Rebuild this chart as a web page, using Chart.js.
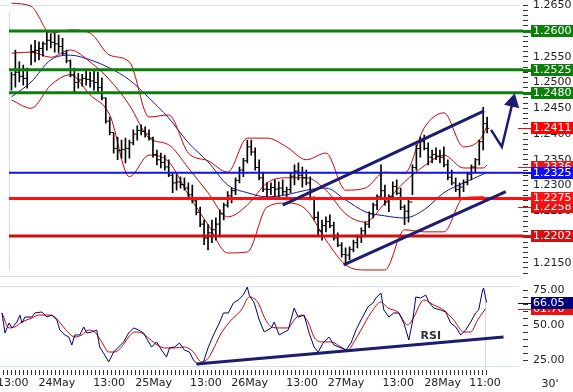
<!DOCTYPE html>
<html>
<head>
<meta charset="utf-8">
<script src="https://cdn.jsdelivr.net/npm/chart.js@4.4.1/dist/chart.umd.min.js"></script>
<style>
html, body { margin:0; padding:0; background:#fff; }
#wrap { position:relative; width:573px; height:392px; overflow:hidden; }
canvas { position:absolute; left:0; }
#priceChart { top:0; }
#rsiChart { top:282px; }
</style>
</head>
<body>
<div id="wrap">
  <canvas id="priceChart" width="573" height="282"></canvas>
  <canvas id="rsiChart" width="573" height="110"></canvas>
</div>
<script>
// hourly bars, index 0..121
const barHigh = [1.2520,1.2563,1.2540,1.2534,1.2528,1.2573,1.2582,1.2579,1.2579,1.2598,
  1.2594,1.2596,1.2592,1.2586,1.2563,1.2544,1.2528,1.2518,1.2516,1.2524,
  1.2520,1.2524,1.2520,1.2509,1.2470,1.2433,1.2402,1.2394,1.2388,1.2392,
  1.2388,1.2408,1.2416,1.2418,1.2414,1.2408,1.2394,1.2369,1.2363,1.2359,
  1.2350,1.2324,1.2321,1.2317,1.2315,1.2305,1.2301,1.2272,1.2258,1.2233,
  1.2224,1.2233,1.2237,1.2253,1.2266,1.2288,1.2295,1.2315,1.2336,1.2353,
  1.2388,1.2388,1.2373,1.2350,1.2326,1.2305,1.2305,1.2311,1.2307,1.2311,
  1.2297,1.2324,1.2340,1.2344,1.2336,1.2330,1.2317,1.2278,1.2249,1.2233,
  1.2239,1.2243,1.2229,1.2208,1.2189,1.2179,1.2181,1.2194,1.2204,1.2218,
  1.2229,1.2249,1.2266,1.2282,1.2340,1.2301,1.2282,1.2307,1.2311,1.2295,
  1.2262,1.2272,1.2340,1.2379,1.2394,1.2398,1.2383,1.2369,1.2373,1.2369,
  1.2375,1.2350,1.2330,1.2315,1.2305,1.2311,1.2326,1.2340,1.2353,1.2388,
  1.2452,1.2433];
const barLow = [1.2485,1.2491,1.2501,1.2495,1.2489,1.2534,1.2540,1.2544,1.2551,1.2563,
  1.2567,1.2559,1.2557,1.2553,1.2538,1.2511,1.2482,1.2489,1.2493,1.2495,
  1.2491,1.2485,1.2482,1.2466,1.2421,1.2398,1.2363,1.2350,1.2353,1.2344,
  1.2353,1.2379,1.2388,1.2398,1.2394,1.2388,1.2355,1.2340,1.2334,1.2330,
  1.2317,1.2286,1.2291,1.2295,1.2291,1.2272,1.2266,1.2243,1.2220,1.2185,
  1.2175,1.2189,1.2194,1.2200,1.2233,1.2258,1.2266,1.2282,1.2305,1.2317,
  1.2344,1.2359,1.2330,1.2311,1.2288,1.2278,1.2282,1.2280,1.2278,1.2282,
  1.2272,1.2286,1.2301,1.2311,1.2297,1.2301,1.2272,1.2233,1.2204,1.2194,
  1.2210,1.2218,1.2194,1.2181,1.2161,1.2150,1.2156,1.2171,1.2179,1.2189,
  1.2200,1.2218,1.2237,1.2253,1.2276,1.2262,1.2249,1.2272,1.2282,1.2253,
  1.2224,1.2229,1.2282,1.2330,1.2355,1.2369,1.2340,1.2344,1.2350,1.2344,
  1.2336,1.2311,1.2301,1.2288,1.2278,1.2288,1.2301,1.2311,1.2326,1.2340,
  1.2369,1.2402];
const barClose = [1.2515,1.2520,1.2512,1.2508,1.2525,1.2560,1.2562,1.2566,1.2575,1.2582,
  1.2578,1.2575,1.2570,1.2556,1.2542,1.2515,1.2500,1.2505,1.2508,1.2506,
  1.2503,1.2500,1.2490,1.2470,1.2425,1.2403,1.2372,1.2368,1.2370,1.2372,
  1.2383,1.2400,1.2407,1.2405,1.2400,1.2392,1.2360,1.2350,1.2345,1.2336,
  1.2320,1.2305,1.2307,1.2302,1.2295,1.2282,1.2270,1.2248,1.2225,1.2198,
  1.2208,1.2214,1.2225,1.2245,1.2262,1.2280,1.2290,1.2310,1.2330,1.2348,
  1.2375,1.2365,1.2335,1.2315,1.2293,1.2292,1.2296,1.2293,1.2295,1.2288,
  1.2292,1.2318,1.2328,1.2320,1.2315,1.2305,1.2277,1.2238,1.2212,1.2222,
  1.2230,1.2222,1.2198,1.2184,1.2166,1.2165,1.2176,1.2189,1.2200,1.2212,
  1.2225,1.2245,1.2262,1.2278,1.2290,1.2268,1.2278,1.2298,1.2285,1.2258,
  1.2250,1.2268,1.2335,1.2372,1.2385,1.2372,1.2355,1.2360,1.2357,1.2355,
  1.2340,1.2316,1.2305,1.2292,1.2297,1.2306,1.2322,1.2336,1.2350,1.2385,
  1.2420,1.2411];

// indicators, read every 5 bars
const bandBars = [0,5,10,15,20,25,30,35,40,45,50,55,60,65,70,75,80,85,90,95,100,105,110,115,120,121];
const bbUpper = [1.2654,1.2648,1.2596,1.2602,1.2596,1.2553,1.2540,1.2433,1.2437,1.2363,1.2348,1.2326,1.2392,
  1.2392,1.2375,1.2350,1.2363,1.2291,1.2295,1.2326,1.2324,1.2412,1.2441,1.2375,1.2398,1.2418];
const bbMid = [1.2557,1.2559,1.2549,1.2563,1.2540,1.2505,1.2456,1.2392,1.2379,1.2334,1.2286,1.2239,1.2262,
  1.2305,1.2315,1.2315,1.2291,1.2245,1.2229,1.2266,1.2307,1.2338,1.2359,1.2334,1.2334,1.2340];
const bbLower = [1.2466,1.2450,1.2495,1.2515,1.2476,1.2437,1.2317,1.2359,1.2346,1.2282,1.2224,1.2169,1.2171,
  1.2258,1.2266,1.2253,1.2194,1.2146,1.2136,1.2136,1.2214,1.2210,1.2210,1.2276,1.2278,1.2272];
const maBlue = [1.2472,1.2501,1.2544,1.2553,1.2544,1.2528,1.2505,1.2470,1.2431,1.2383,1.2346,1.2301,1.2286,
  1.2278,1.2282,1.2291,1.2295,1.2272,1.2249,1.2241,1.2237,1.2253,1.2286,1.2305,1.2322,1.2326];

// levels and drawn lines
const levelGreen = [1.2600, 1.2525, 1.2480];
const levelBlue = [1.2325];
const levelRed = [1.2275, 1.2202];
const chanUpBars = [69, 120.25], chanUpVals = [1.2262, 1.2445];
const chanLoBars = [84.5, 125.75], chanLoVals = [1.2146, 1.2288];
const arrowBars = [122, 124.75, 127.5], arrowVals = [1.2408, 1.2375, 1.2462];

// price tags on the right axis (drawn in this order)
const tagVals = [1.2600, 1.2525, 1.2480, 1.2411, 1.2336, 1.2325, 1.2258, 1.2275, 1.2202];
const tagColors = ['#0a7f0a','#0a7f0a','#0a7f0a','#ff0000','#ee1111','#1010ee','#e81010','#ff1010','#d01010'];
const tagStub = [false,false,false,true,true,false,true,false,false];
const tagWidth = [3,3,3,1,1,2,1,3,3];

// RSI
const rsiBars = [-0.5,0.25,1.25,2,3.25,4,4.5,5.25,7,7.75,9.5,10.75,12,13.25,14,15.25,16.25,17,17.75,19,
  20,20.75,22,23.25,24,25.25,26.25,27.5,28.75,30,31.25,32.5,33.75,35,36.25,37,38.25,39.5,40.75,41.5,
  42.75,44,45.25,46.5,47.5,48.75,50,51.25,52.75,54,55,56.25,57.5,58.75,60,61,61.5,62.75,64,65.25,
  67,67.75,69,71.25,72.75,73.75,75.25,76.5,77.75,78.75,80,81.5,82.75,84.5,85.75,87,88.25,89.5,91.25,92.5,
  93.25,94.5,95.25,96.5,97.75,99,100.25,101.5,102.5,103.25,104.5,105.75,106.5,107.75,109.5,110.75,112,113.25,
  114.5,115.75,117,118.25,119,120,120.25,121];
const rsiVals = [58.6,44.3,51.4,47.9,52.1,57.1,51.4,55.7,55.7,58.6,59.3,55.7,57.1,53.6,46.4,42.9,41.4,35.7,42.9,42.9,
  48.6,44.3,45.0,46.4,34.3,28.6,23.6,30.7,34.3,37.9,44.3,47.9,46.4,44.3,37.9,34.3,37.9,32.1,27.1,33.6,
  34.3,37.1,32.1,30.7,25.0,21.4,23.6,34.3,44.3,51.4,58.6,58.6,65.7,67.9,71.4,77.1,71.4,65.7,53.6,45.0,
  47.9,52.1,42.9,46.4,62.1,55.7,57.1,44.3,34.3,30.7,37.1,41.4,35.7,33.6,32.1,37.1,46.4,53.6,62.9,65.7,
  69.3,72.9,60.7,55.7,58.6,58.6,51.4,39.3,53.6,70.0,69.3,71.4,66.4,62.1,60.7,59.3,51.4,48.6,
  42.9,46.4,52.1,58.6,60.7,75.0,76.4,66.05];
const rsiMaBars = [-0.5,1.25,2.75,4.5,7,8.75,11.25,12.75,14.5,16.25,17.75,19.5,21.25,22.75,24.5,26.25,27.75,29.5,31.25,32.75,
  34.5,36.25,37.75,40.25,42.75,45.25,47.5,49.5,51.25,52.75,54.5,57,59.5,61.5,63.75,65.25,67,69,71.25,72.75,
  74.5,76.25,77.75,79.5,82,84.5,86.25,87.75,89.5,92,94.5,96.25,98.75,101.25,102.75,105.25,107.75,110.25,112.75,115.25,
  117,118.75,120.75];
const rsiMaVals = [58.6,47.9,48.6,52.1,55.0,57.1,57.1,55.7,50.0,44.3,41.4,42.9,46.4,45.0,37.9,30.7,30.7,34.3,41.4,45.0,
  44.3,40.7,37.1,33.6,33.6,34.3,30.7,23.6,26.4,34.3,44.3,53.6,60.7,70.0,65.7,55.7,48.6,47.9,47.9,53.6,
  57.1,52.1,41.4,37.9,37.9,34.3,32.1,37.9,46.4,58.6,66.4,62.1,59.3,50.0,55.7,67.9,64.3,60.7,53.6,45.0,
  45.0,53.6,61.7];
const rsiTrendBars = [48.25, 125.25], rsiTrendVals = [22.1, 41.4];
const rsiTagVals = [61.70, 66.05];
const rsiTagColors = ['#ee1111', '#000080'];

// time axis
const xTickPos = [2.2, 13.25, 26.35, 37.5, 50.6, 61.6, 74.75, 85.75, 98.85, 110, 120.6];
const xTickLabels = ['13:00','24May','13:00','25May','13:00','26May','13:00','27May','13:00','28May','11:00'];

// plot area is 523px wide, 4px per bar
const X_MIN = -0.625, X_MAX = X_MIN + 523 / 4;
const FONT = "'DejaVu Sans', Verdana, sans-serif";
Chart.defaults.font.family = FONT;
Chart.defaults.font.size = 11;
Chart.defaults.color = '#222';

function pts(xs, ys) {
    return xs.map(function (x, k) { return {x: x, y: ys[k]}; });
}

function curve(xs, ys, color, width, order) {
    return {type:'line', data: pts(xs, ys), borderColor: color, borderWidth: width, clip: false,
        pointRadius: 0, cubicInterpolationMode: 'monotone', order: order};
}

function level(v, color, width) {
    return {type:'line', data: [{x: X_MIN, y: v}, {x: X_MAX, y: v}], borderColor: color,
        borderWidth: width, pointRadius: 0, order: 30};
}

function drawTag(ctx, y, text, color, stub, width, areaRight) {
    const off = width % 2 ? 0.5 : 0;
    ctx.strokeStyle = color;
    ctx.lineWidth = width;
    ctx.beginPath();
    ctx.moveTo(stub ? 518 : areaRight, y + off);
    ctx.lineTo(531, y + off);
    ctx.stroke();
    ctx.fillStyle = color;
    ctx.fillRect(531, y - 6, 42, 12);
    ctx.fillStyle = '#fff';
    ctx.font = '11px ' + FONT;
    ctx.textBaseline = 'middle';
    ctx.textAlign = 'left';
    ctx.fillText(text, 533, y + 0.5);
}

function hLines(ctx, ys) {
    ctx.strokeStyle = '#d8e2ec';
    ctx.lineWidth = 1;
    ctx.beginPath();
    ys.forEach(function (y) { ctx.moveTo(0, y + 0.5); ctx.lineTo(520, y + 0.5); });
    ctx.stroke();
}

// keep a fixed pixel scale whatever room the layout leaves
function pinScale(chart, id, ref, refPx, perUnit) {
    const a = chart.chartArea;
    chart.options.scales[id].max = ref + (refPx - a.top) / perUnit;
    chart.options.scales[id].min = ref - (a.bottom - refPx) / perUnit;
    chart.update();
}

const priceTags = {
    id: 'priceTags',
    beforeDatasetsDraw(chart) {
        chart.ctx.save();
        hLines(chart.ctx, [5, 276]);
        chart.ctx.restore();
    },
    afterDraw(chart) {
        const ctx = chart.ctx, ys = chart.scales.y;
        ctx.save();
        tagVals.forEach(function (v, k) {
            const y = Math.round(ys.getPixelForValue(v));
            drawTag(ctx, y, v.toFixed(4), tagColors[k], tagStub[k], tagWidth[k], chart.chartArea.right);
        });
        ctx.restore();
    }
};

const rsiTags = {
    id: 'rsiTags',
    beforeDatasetsDraw(chart) {
        chart.ctx.save();
        hLines(chart.ctx, [4, 84]);
        chart.ctx.restore();
    },
    afterDraw(chart) {
        const ctx = chart.ctx, ys = chart.scales.y, xs = chart.scales.x;
        ctx.save();
        rsiTagVals.forEach(function (v, k) {
            const y = Math.round(ys.getPixelForValue(v));
            drawTag(ctx, y, v.toFixed(2), rsiTagColors[k], true, 1, chart.chartArea.right);
        });
        ctx.fillStyle = '#333';
        ctx.font = 'bold 11px ' + FONT;
        ctx.textAlign = 'center';
        ctx.textBaseline = 'middle';
        ctx.fillText('RSI', xs.getPixelForValue(107), ys.getPixelForValue(42.1));
        ctx.fillStyle = '#222';
        ctx.font = '11px ' + FONT;
        ctx.fillText("30'", 550, 102);
        ctx.restore();
    }
};

const bars = barHigh.map(function (h, i) { return {x: i, y: [barLow[i], h]}; });
const closeTicks = barClose.map(function (c, i) { return {x: i, y: c}; });
const openTicks = barClose.slice(0, -1).map(function (c, i) { return {x: i + 1, y: c}; });

let priceSets = [
    curve(bandBars, bbUpper, '#cc0000', 1, 50),
    curve(bandBars, bbMid, '#cc0000', 1, 50),
    curve(bandBars, bbLower, '#cc0000', 1, 50),
    curve(bandBars, maBlue, '#1414a0', 1, 50),
    {type:'bar', data: bars, backgroundColor:'#000', barThickness: 1, order: 40},
    {type:'line', data: closeTicks, showLine: false, pointStyle: 'dash', pointRadius: 2,
        borderColor:'#000', borderWidth: 1, order: 40},
    {type:'line', data: openTicks, showLine: false, pointStyle: 'dash', rotation: 180, pointRadius: 2,
        borderColor:'#000', borderWidth: 1, order: 40}
];
levelGreen.forEach(function (v) { priceSets.push(level(v, '#0a7f0a', 3)); });
levelBlue.forEach(function (v) { priceSets.push(level(v, '#1010ee', 2)); });
levelRed.forEach(function (v, k) { priceSets.push(level(v, k ? '#d01010' : '#ff1010', 3)); });
priceSets.push({type:'line', data: pts(chanUpBars, chanUpVals), borderColor:'#1c1c70', borderWidth: 3, pointRadius: 0, order: 20});
priceSets.push({type:'line', data: pts(chanLoBars, chanLoVals), borderColor:'#1c1c70', borderWidth: 3, pointRadius: 0, order: 20});
priceSets.push({type:'line', data: pts(arrowBars, arrowVals), borderColor:'#1c1c70', borderWidth: 2.5,
    pointRadius: [0, 0, 6.5], pointStyle: 'triangle', rotation: 13, pointBackgroundColor:'#1c1c70',
    pointBorderColor:'#1c1c70', order: 10});

function rightAxis(min, max, labelFn, ticksFn) {
    return {
        type: 'linear', position: 'right', min: min, max: max,
        border: {display: false},
        grid: {drawOnChartArea: false, tickLength: 5, tickColor: '#333'},
        ticks: {autoSkip: false, padding: 5, color: '#222', callback: labelFn},
        afterBuildTicks: ticksFn,
        afterFit: function (s) { s.width = 50; }
    };
}

const priceChart = new Chart(document.getElementById('priceChart'), {
    type: 'bar',
    data: {datasets: priceSets},
    options: {
        responsive: false, animation: false, devicePixelRatio: 1,
        layout: {padding: 0},
        plugins: {legend: {display: false}, tooltip: {enabled: false}},
        scales: {
            x: {
                type: 'linear', min: X_MIN, max: X_MAX, offset: false,
                border: {display: false},
                ticks: {display: false},
                grid: {drawTicks: false, color: '#d0dce8'},
                afterBuildTicks: function (s) { s.ticks = [{value: xTickPos[xTickPos.length - 1]}]; },
                afterFit: function (s) { s.height = 0; s.paddingLeft = 0; s.paddingRight = 0; }
            },
            y: rightAxis(1.212, 1.2655,
                function (v) { return Math.round(v * 10000) % 50 === 0 ? v.toFixed(4) : ''; },
                function (s) {
                    let t = [];
                    for (let k = 12130; k <= 12650; k += 10) t.push({value: k / 10000});
                    s.ticks = t;
                })
        }
    },
    plugins: [priceTags]
});
pinScale(priceChart, 'y', 1.26, 31, 5150);

const rsiChart = new Chart(document.getElementById('rsiChart'), {
    type: 'line',
    data: {datasets: [
        {data: pts(rsiTrendBars, rsiTrendVals), borderColor:'#1c1c70', borderWidth: 3, pointRadius: 0, clip: false, order: 1},
        {data: pts(rsiBars, rsiVals), borderColor:'#000070', borderWidth: 1, pointRadius: 0, clip: false, order: 2},
        {data: pts(rsiMaBars, rsiMaVals), borderColor:'#cc0000', borderWidth: 1, pointRadius: 0, clip: false,
            cubicInterpolationMode: 'monotone', order: 3}
    ]},
    options: {
        responsive: false, animation: false, devicePixelRatio: 1,
        layout: {padding: 0},
        plugins: {legend: {display: false}, tooltip: {enabled: false}},
        scales: {
            x: {
                type: 'linear', position: 'bottom', weight: 0, min: X_MIN, max: X_MAX, offset: false,
                border: {display: false},
                ticks: {display: false, autoSkip: false},
                grid: {drawOnChartArea: false, tickLength: 5, tickColor: '#333'},
                afterBuildTicks: function (s) { s.ticks = barHigh.map(function (h, i) { return {value: i}; }); },
                afterFit: function (s) { s.height = 5; s.paddingLeft = 0; s.paddingRight = 0; }
            },
            xl: {
                type: 'linear', position: 'bottom', weight: 1, min: X_MIN, max: X_MAX, offset: false,
                border: {display: false},
                grid: {drawTicks: false, color: function (c) {
                    return (c.tick && c.tick.value === xTickPos[xTickPos.length - 1]) ? '#d0dce8' : 'rgba(0,0,0,0)';
                }},
                ticks: {autoSkip: false, maxRotation: 0, padding: 2, color: '#222',
                    callback: function (v, k) { return xTickLabels[k]; }},
                afterBuildTicks: function (s) { s.ticks = xTickPos.map(function (p) { return {value: p}; }); },
                afterFit: function (s) { s.height = 17; s.paddingLeft = 0; s.paddingRight = 0; }
            },
            y: rightAxis(20, 78,
                function (v) { return v % 25 === 0 ? v.toFixed(2) : ''; },
                function (s) {
                    let t = [];
                    for (let k = 25; k <= 75; k += 5) t.push({value: k});
                    s.ticks = t;
                })
        }
    },
    plugins: [rsiTags]
});
pinScale(rsiChart, 'y', 50, 43, 1.4);
</script>
</body>
</html>
